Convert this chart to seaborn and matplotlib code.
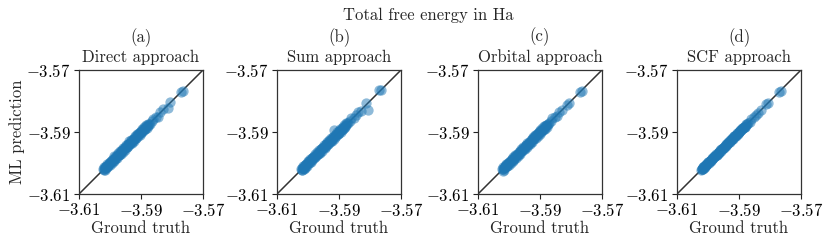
import numpy as np
import pandas as pd
import matplotlib
matplotlib.use("Agg")
import matplotlib.pyplot as plt
import seaborn as sns

# ground truth energies (Ha), shared by all four panels
truth = [-3.6021, -3.6019, -3.6017, -3.6015, -3.6013, -3.6010, -3.6008, -3.6005,
         -3.6002, -3.5999, -3.5996, -3.5993, -3.5990, -3.5987, -3.5984, -3.5981,
         -3.5978, -3.5975, -3.5972, -3.5969, -3.5966, -3.5963, -3.5960, -3.5957,
         -3.5954, -3.5951, -3.5948, -3.5945, -3.5942, -3.5939, -3.5936, -3.5933,
         -3.5930, -3.5927, -3.5924, -3.5921, -3.5918, -3.5915, -3.5912, -3.5909,
         -3.5906, -3.5903, -3.5900, -3.5897, -3.5894, -3.5891, -3.5888, -3.5885,
         -3.5882, -3.5879,
         -3.5875, -3.5871, -3.5866, -3.5860, -3.5852, -3.5846, -3.5838, -3.5828,
         -3.5812, -3.5808, -3.5770, -3.5766]
truth2 = [-3.60200, -3.60180, -3.60160, -3.60140, -3.60115, -3.60090, -3.60065,
          -3.60035, -3.60005, -3.59975, -3.59945, -3.59915, -3.59885, -3.59855,
          -3.59825, -3.59795, -3.59765, -3.59735, -3.59705, -3.59675, -3.59645,
          -3.59615, -3.59585, -3.59555, -3.59525, -3.59495, -3.59465, -3.59435,
          -3.59405, -3.59375, -3.59345, -3.59315, -3.59285, -3.59255, -3.59225,
          -3.59195, -3.59165, -3.59135, -3.59105, -3.59075, -3.59045, -3.59015,
          -3.58985, -3.58955, -3.58925, -3.58895, -3.58865, -3.58835, -3.58805,
          -3.58775]

# prediction errors, in units of 1e-4 Ha
err_direct = [2, -1, 3, -2, 1, -3, 2, 0, -2, 3, -1, 2, -3, 1, 4, -2, 0, 3, -1, -3,
              2, 1, -2, 4, -1, 0, 3, -3, 2, -1, 1, 4, -2, 0, 3, -1, 2, -3, 1, 4,
              -2, 3, 0, -1, 4, 2, -2, 3, 1, -1,
              2, -2, 3, 1, -1, -4, 4, 2, -12, 6, 0, -3]
err2_direct = [-4, 5, -6, 3, -5, 6, -3, 5, -6, 4, -5, 6, -4, 7, -5, 3, -6, 5, -3, 6,
               -5, 4, -7, 5, -4, 6, -3, 5, -6, 7, -4, 5, -6, 3, -5, 6, -4, 7, -3, 5,
               -6, 4, -5, 6, -3, 5, -4, 6, -5, 3]
err_sum = [1, -2, 2, 0, -3, 3, -1, 2, -2, 1, 4, -3, 0, 2, -1, 3, -4, 1, 2, -2,
           3, 0, -3, 2, 4, -1, 1, -3, 3, 0, -2, 4, 1, -1, 3, -2, 2, 20, -3, 4,
           1, -2, 3, 0, 2, -1, 4, -3, 1, 2,
           3, -1, 2, 4, -2, 1, 3, -4, 5, -21, 5, 2]
err2_sum = [5, -4, 6, -5, 3, -6, 4, -5, 7, -3, 6, -4, 5, -6, 3, -5, 7, -4, 6, -3,
            5, -6, 4, -7, 3, 6, -5, 4, -6, 5, -3, 7, -4, 6, -5, 3, -6, 5, -4, 7,
            -3, 6, -5, 4, -6, 3, -5, 6, -4, 5]
err_orbital = [1, -1, 2, -2, 0, 2, -1, 1, -2, 2, 0, -1, 3, -2, 1, 2, -1, 0, 2, -2,
               1, 3, -1, 0, 2, -2, 1, 3, 0, -1, 2, 1, -2, 3, 0, 2, -1, 1, 3, -2,
               2, 0, 3, -1, 2, 1, -2, 3, 0, 2,
               2, -1, 3, 4, 1, -2, 2, 0, -2, 1, 0, -2]
err2_orbital = [-5, 4, -6, 5, -3, 6, -4, 5, -7, 3, -6, 4, -5, 6, -3, 5, -7, 4, -6, 3,
                -5, 6, -4, 7, -3, -6, 5, -4, 6, -5, 3, -7, 4, -6, 5, -3, 6, -5, 4, -7,
                3, -6, 5, -4, 6, -3, 5, -6, 4, -5]
err_scf = [0, 1, -1, 1, 0, -1, 1, 0, -1, 1, 0, 1, -1, 0, 1, -1, 0, 1, -1, 0,
           1, 0, -1, 1, 0, -1, 1, 0, -1, 1, 0, 1, -1, 0, 1, -1, 0, 1, -1, 0,
           1, -1, 0, 1, -1, 0, 1, 0, -1, 1,
           1, 0, -1, 1, 0, 1, -1, 0, 1, 0, 0, -1]
err2_scf = [2, -2, 3, -2, 1, -3, 2, -1, 3, -2, 2, -3, 1, 2, -2, 3, -1, 2, -3, 1,
            -2, 3, -2, 1, 2, -3, 2, -1, 3, -2, 1, -2, 3, -1, 2, -3, 2, 1, -2, 3,
            -1, 2, -3, 2, -1, 3, -2, 1, -2, 2]

panel_tags = ["(a)", "(b)", "(c)", "(d)"]
panel_names = ["Direct approach", "Sum approach", "Orbital approach", "SCF approach"]
errors = [err_direct + err2_direct, err_sum + err2_sum,
          err_orbital + err2_orbital, err_scf + err2_scf]

lims = [-3.61, -3.57]
ticks = [-3.61, -3.59, -3.57]
tick_labels = [r"$-3.61$", r"$-3.59$", r"$-3.57$"]

sns.set_style("ticks")
plt.rcParams["font.family"] = ["cmr10", "DejaVu Serif"]
plt.rcParams["mathtext.fontset"] = "cm"
plt.rcParams["axes.unicode_minus"] = False
fs = 12

fig = plt.figure(figsize=(8.31, 2.45), dpi=100)
lefts = [79, 277, 478, 677]
all_truth = np.array(truth + truth2)
for i, left in enumerate(lefts):
    ax = fig.add_axes([left / 831, 51 / 245, 124 / 831, 124 / 245])
    df = pd.DataFrame({"truth": all_truth,
                       "pred": all_truth + np.array(errors[i]) * 1e-4})
    ax.plot(lims, lims, color="#333333", lw=1.1, zorder=1)
    sns.scatterplot(data=df, x="truth", y="pred", ax=ax, color="#1f77b4",
                    alpha=0.5, s=55, linewidth=0, zorder=2)
    ax.set_xlim(lims)
    ax.set_ylim(lims)
    ax.set_xticks(ticks)
    ax.set_xticklabels(tick_labels)
    ax.set_yticks(ticks)
    ax.set_yticklabels(tick_labels)
    ax.tick_params(labelsize=fs, length=3.5, width=0.8, colors="#222222")
    ax.tick_params(labelcolor="black", pad=2.5)
    for sp in ax.spines.values():
        sp.set_color("#333333")
        sp.set_linewidth(0.9)
    ax.set_title(panel_tags[i] + "\n" + panel_names[i], fontsize=fs,
                 pad=6, linespacing=1.2)
    ax.set_xlabel("Ground truth", fontsize=fs, labelpad=1)
    if i == 0:
        ax.set_ylabel("ML prediction", fontsize=fs, labelpad=1)
    else:
        ax.set_ylabel("")

fig.text(428 / 831, 1 - 15 / 245, "Total free energy in Ha", ha="center",
         va="center", fontsize=fs)

fig.savefig("out.png", dpi=100)
